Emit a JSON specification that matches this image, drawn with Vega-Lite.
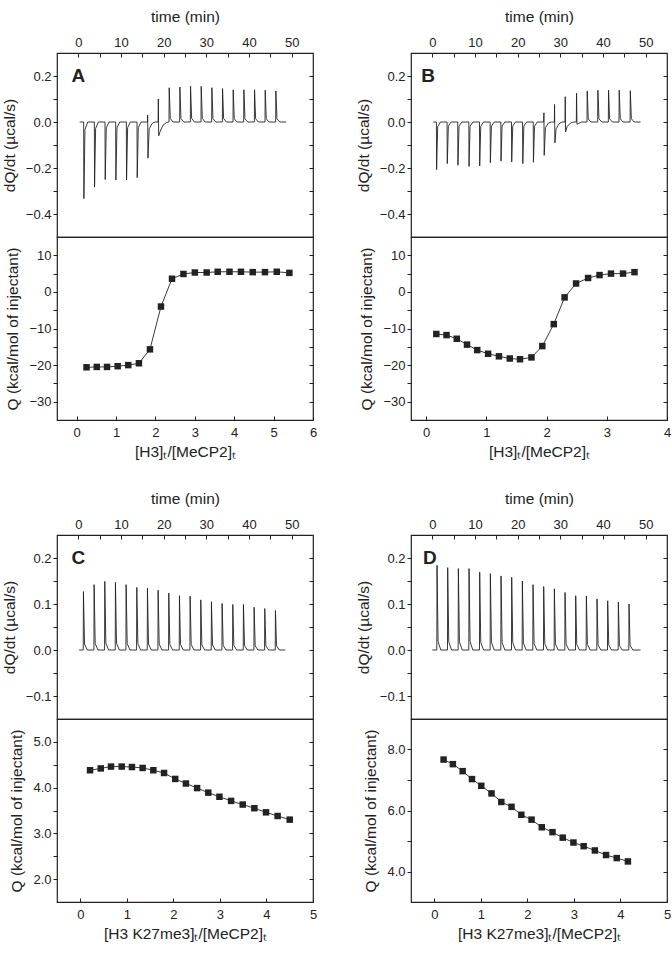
{
  "$schema": "https://vega.github.io/schema/vega-lite/v6.json",
  "padding": {"left": 1, "top": 8, "right": 2, "bottom": 2},
  "background": "white",
  "config": {
    "font": "Liberation Sans",
    "view": {"stroke": "#222", "strokeWidth": 1.2},
    "axis": {
      "domain": false, "grid": false, "ticks": true,
      "tickColor": "#222", "tickWidth": 1, "tickSize": 4,
      "labelColor": "#222", "labelFont": "Liberation Sans", "labelFontSize": 13,
      "labelFlush": false, "labelOverlap": false, "labelPadding": 2,
      "titleFont": "Liberation Sans", "titleFontSize": 15.5, "titleFontWeight": "normal",
      "titleColor": "#222", "titlePadding": 8
    },
    "axisTop": {"offset": -4, "labelPadding": 4, "titlePadding": 11.5},
    "axisBottom": {"offset": -4, "labelPadding": 6, "titlePadding": 5},
    "axisRight": {"offset": -4, "labels": false}
  },
  "datasets": {
    "rawA": [
      {"t":0.3,"v":0},
      {"t":1.25,"v":0},{"t":1.3,"v":-0.333},{"t":1.55,"v":-0.033},{"t":2.2,"v":0},
      {"t":3.75,"v":0},{"t":3.8,"v":-0.283},{"t":4.05,"v":-0.028},{"t":4.7,"v":0},
      {"t":6.25,"v":0},{"t":6.3,"v":-0.25},{"t":6.55,"v":-0.025},{"t":7.2,"v":0},
      {"t":8.75,"v":0},{"t":8.8,"v":-0.252},{"t":9.05,"v":-0.025},{"t":9.7,"v":0},
      {"t":11.25,"v":0},{"t":11.3,"v":-0.252},{"t":11.55,"v":-0.025},{"t":12.2,"v":0},
      {"t":13.75,"v":0},{"t":13.8,"v":-0.242},{"t":14.05,"v":-0.024},{"t":14.7,"v":0},
      {"t":16.2,"v":0},{"t":16.25,"v":0.03},{"t":16.32,"v":-0.157},{"t":16.6,"v":-0.03},{"t":17.3,"v":-0.006},{"t":18.0,"v":0},
      {"t":18.7,"v":0},{"t":18.75,"v":0.1},{"t":18.83,"v":-0.06},{"t":19.2,"v":-0.04},{"t":19.8,"v":-0.015},{"t":20.6,"v":-0.003},{"t":21.2,"v":0},
      {"t":21.25,"v":0},{"t":21.3,"v":0.149},{"t":21.55,"v":0.015},{"t":22.2,"v":0},
      {"t":23.75,"v":0},{"t":23.8,"v":0.152},{"t":24.05,"v":0.015},{"t":24.7,"v":0},
      {"t":26.25,"v":0},{"t":26.3,"v":0.155},{"t":26.55,"v":0.016},{"t":27.2,"v":0},
      {"t":28.75,"v":0},{"t":28.8,"v":0.155},{"t":29.05,"v":0.016},{"t":29.7,"v":0},
      {"t":31.25,"v":0},{"t":31.3,"v":0.149},{"t":31.55,"v":0.015},{"t":32.2,"v":0},
      {"t":33.75,"v":0},{"t":33.8,"v":0.145},{"t":34.05,"v":0.015},{"t":34.7,"v":0},
      {"t":36.25,"v":0},{"t":36.3,"v":0.14},{"t":36.55,"v":0.014},{"t":37.2,"v":0},
      {"t":38.75,"v":0},{"t":38.8,"v":0.14},{"t":39.05,"v":0.014},{"t":39.7,"v":0},
      {"t":41.25,"v":0},{"t":41.3,"v":0.14},{"t":41.55,"v":0.014},{"t":42.2,"v":0},
      {"t":43.75,"v":0},{"t":43.8,"v":0.138},{"t":44.05,"v":0.014},{"t":44.7,"v":0},
      {"t":46.25,"v":0},{"t":46.3,"v":0.135},{"t":46.55,"v":0.014},{"t":47.2,"v":0},
      {"t":48.7,"v":0}
    ],
    "rawB": [
      {"t":0.2,"v":0},
      {"t":0.95,"v":0},{"t":1.0,"v":-0.207},{"t":1.25,"v":-0.021},{"t":1.9,"v":0},
      {"t":3.45,"v":0},{"t":3.5,"v":-0.181},{"t":3.75,"v":-0.018},{"t":4.4,"v":0},
      {"t":5.95,"v":0},{"t":6.0,"v":-0.188},{"t":6.25,"v":-0.019},{"t":6.9,"v":0},
      {"t":8.55,"v":0},{"t":8.6,"v":-0.193},{"t":8.85,"v":-0.019},{"t":9.5,"v":0},
      {"t":11.05,"v":0},{"t":11.1,"v":-0.191},{"t":11.35,"v":-0.019},{"t":12.0,"v":0},
      {"t":13.55,"v":0},{"t":13.6,"v":-0.177},{"t":13.85,"v":-0.018},{"t":14.5,"v":0},
      {"t":16.05,"v":0},{"t":16.1,"v":-0.17},{"t":16.35,"v":-0.017},{"t":17.0,"v":0},
      {"t":18.55,"v":0},{"t":18.6,"v":-0.174},{"t":18.85,"v":-0.017},{"t":19.5,"v":0},
      {"t":21.15,"v":0},{"t":21.2,"v":-0.181},{"t":21.45,"v":-0.018},{"t":22.1,"v":0},
      {"t":23.65,"v":0},{"t":23.7,"v":-0.175},{"t":23.95,"v":-0.018},{"t":24.6,"v":0},
      {"t":26.1,"v":0},{"t":26.15,"v":0.04},{"t":26.22,"v":-0.145},{"t":26.5,"v":-0.025},{"t":27.2,"v":-0.005},{"t":27.9,"v":0},
      {"t":28.6,"v":0},{"t":28.65,"v":0.076},{"t":28.73,"v":-0.091},{"t":29.0,"v":-0.03},{"t":29.7,"v":-0.008},{"t":30.4,"v":0},
      {"t":31.1,"v":0},{"t":31.15,"v":0.11},{"t":31.23,"v":-0.043},{"t":31.6,"v":-0.02},{"t":32.3,"v":-0.006},{"t":33.0,"v":0},
      {"t":33.75,"v":0},{"t":33.8,"v":0.125},{"t":33.9,"v":-0.01},{"t":34.3,"v":-0.006},{"t":35.0,"v":0},
      {"t":36.25,"v":0},{"t":36.3,"v":0.135},{"t":36.55,"v":0.013},{"t":37.2,"v":0},
      {"t":38.75,"v":0},{"t":38.8,"v":0.138},{"t":39.05,"v":0.014},{"t":39.7,"v":0},
      {"t":41.25,"v":0},{"t":41.3,"v":0.138},{"t":41.55,"v":0.014},{"t":42.2,"v":0},
      {"t":43.75,"v":0},{"t":43.8,"v":0.138},{"t":44.05,"v":0.014},{"t":44.7,"v":0},
      {"t":46.35,"v":0},{"t":46.4,"v":0.136},{"t":46.65,"v":0.014},{"t":47.3,"v":0},
      {"t":48.8,"v":0}
    ],
    "rawC": [
      {"t":0.2,"v":0},
      {"t":1.15,"v":0},{"t":1.2,"v":0.127},{"t":1.45,"v":0.013},{"t":2.1,"v":0},
      {"t":3.65,"v":0},{"t":3.7,"v":0.142},{"t":3.95,"v":0.014},{"t":4.6,"v":0},
      {"t":6.15,"v":0},{"t":6.2,"v":0.149},{"t":6.45,"v":0.015},{"t":7.1,"v":0},
      {"t":8.65,"v":0},{"t":8.7,"v":0.147},{"t":8.95,"v":0.015},{"t":9.6,"v":0},
      {"t":11.15,"v":0},{"t":11.2,"v":0.142},{"t":11.45,"v":0.014},{"t":12.1,"v":0},
      {"t":13.65,"v":0},{"t":13.7,"v":0.136},{"t":13.95,"v":0.014},{"t":14.6,"v":0},
      {"t":16.15,"v":0},{"t":16.2,"v":0.134},{"t":16.45,"v":0.013},{"t":17.1,"v":0},
      {"t":18.65,"v":0},{"t":18.7,"v":0.13},{"t":18.95,"v":0.013},{"t":19.6,"v":0},
      {"t":21.15,"v":0},{"t":21.2,"v":0.124},{"t":21.45,"v":0.012},{"t":22.1,"v":0},
      {"t":23.65,"v":0},{"t":23.7,"v":0.118},{"t":23.95,"v":0.012},{"t":24.6,"v":0},
      {"t":26.15,"v":0},{"t":26.2,"v":0.117},{"t":26.45,"v":0.012},{"t":27.1,"v":0},
      {"t":28.65,"v":0},{"t":28.7,"v":0.109},{"t":28.95,"v":0.011},{"t":29.6,"v":0},
      {"t":31.15,"v":0},{"t":31.2,"v":0.105},{"t":31.45,"v":0.011},{"t":32.1,"v":0},
      {"t":33.65,"v":0},{"t":33.7,"v":0.101},{"t":33.95,"v":0.01},{"t":34.6,"v":0},
      {"t":36.15,"v":0},{"t":36.2,"v":0.099},{"t":36.45,"v":0.01},{"t":37.1,"v":0},
      {"t":38.65,"v":0},{"t":38.7,"v":0.099},{"t":38.95,"v":0.01},{"t":39.6,"v":0},
      {"t":41.15,"v":0},{"t":41.2,"v":0.093},{"t":41.45,"v":0.009},{"t":42.1,"v":0},
      {"t":43.65,"v":0},{"t":43.7,"v":0.09},{"t":43.95,"v":0.009},{"t":44.6,"v":0},
      {"t":46.15,"v":0},{"t":46.2,"v":0.086},{"t":46.45,"v":0.009},{"t":47.1,"v":0},
      {"t":48.5,"v":0}
    ],
    "rawD": [
      {"t":0.0,"v":0},
      {"t":1.05,"v":0},{"t":1.1,"v":0.184},{"t":1.35,"v":0.018},{"t":2.0,"v":0},
      {"t":3.55,"v":0},{"t":3.6,"v":0.179},{"t":3.85,"v":0.018},{"t":4.5,"v":0},
      {"t":6.05,"v":0},{"t":6.1,"v":0.177},{"t":6.35,"v":0.018},{"t":7.0,"v":0},
      {"t":8.55,"v":0},{"t":8.6,"v":0.177},{"t":8.85,"v":0.018},{"t":9.5,"v":0},
      {"t":11.05,"v":0},{"t":11.1,"v":0.169},{"t":11.35,"v":0.017},{"t":12.0,"v":0},
      {"t":13.55,"v":0},{"t":13.6,"v":0.166},{"t":13.85,"v":0.017},{"t":14.5,"v":0},
      {"t":16.05,"v":0},{"t":16.1,"v":0.161},{"t":16.35,"v":0.016},{"t":17.0,"v":0},
      {"t":18.55,"v":0},{"t":18.6,"v":0.158},{"t":18.85,"v":0.016},{"t":19.5,"v":0},
      {"t":21.05,"v":0},{"t":21.1,"v":0.15},{"t":21.35,"v":0.015},{"t":22.0,"v":0},
      {"t":23.55,"v":0},{"t":23.6,"v":0.142},{"t":23.85,"v":0.014},{"t":24.5,"v":0},
      {"t":26.05,"v":0},{"t":26.1,"v":0.138},{"t":26.35,"v":0.014},{"t":27.0,"v":0},
      {"t":28.55,"v":0},{"t":28.6,"v":0.133},{"t":28.85,"v":0.013},{"t":29.5,"v":0},
      {"t":31.05,"v":0},{"t":31.1,"v":0.125},{"t":31.35,"v":0.013},{"t":32.0,"v":0},
      {"t":33.55,"v":0},{"t":33.6,"v":0.118},{"t":33.85,"v":0.012},{"t":34.5,"v":0},
      {"t":36.05,"v":0},{"t":36.1,"v":0.117},{"t":36.35,"v":0.012},{"t":37.0,"v":0},
      {"t":38.55,"v":0},{"t":38.6,"v":0.111},{"t":38.85,"v":0.011},{"t":39.5,"v":0},
      {"t":41.05,"v":0},{"t":41.1,"v":0.107},{"t":41.35,"v":0.011},{"t":42.0,"v":0},
      {"t":43.55,"v":0},{"t":43.6,"v":0.104},{"t":43.85,"v":0.01},{"t":44.5,"v":0},
      {"t":46.05,"v":0},{"t":46.1,"v":0.1},{"t":46.35,"v":0.01},{"t":47.0,"v":0},
      {"t":48.8,"v":0}
    ],
    "qA": [
      {"r":0.25,"q":-20.6},{"r":0.51,"q":-20.5},{"r":0.77,"q":-20.5},{"r":1.04,"q":-20.3},{"r":1.31,"q":-20.0},
      {"r":1.58,"q":-19.5},{"r":1.86,"q":-15.7},{"r":2.14,"q":-4.0},{"r":2.42,"q":3.6},{"r":2.71,"q":4.9},
      {"r":3.0,"q":5.3},{"r":3.3,"q":5.3},{"r":3.58,"q":5.5},{"r":3.88,"q":5.5},{"r":4.17,"q":5.5},
      {"r":4.47,"q":5.4},{"r":4.78,"q":5.4},{"r":5.08,"q":5.5},{"r":5.4,"q":5.2}
    ],
    "qB": [
      {"r":0.17,"q":-11.5},{"r":0.34,"q":-11.8},{"r":0.51,"q":-12.8},{"r":0.68,"q":-14.4},{"r":0.85,"q":-15.9},
      {"r":1.03,"q":-16.9},{"r":1.21,"q":-17.6},{"r":1.39,"q":-18.2},{"r":1.56,"q":-18.4},{"r":1.75,"q":-17.9},
      {"r":1.93,"q":-14.8},{"r":2.12,"q":-8.8},{"r":2.3,"q":-1.5},{"r":2.49,"q":2.3},{"r":2.69,"q":3.8},
      {"r":2.88,"q":4.6},{"r":3.07,"q":5.0},{"r":3.27,"q":5.0},{"r":3.46,"q":5.4}
    ],
    "qC": [
      {"r":0.21,"q":4.38},{"r":0.44,"q":4.42},{"r":0.66,"q":4.46},{"r":0.89,"q":4.46},{"r":1.11,"q":4.45},
      {"r":1.34,"q":4.43},{"r":1.57,"q":4.38},{"r":1.8,"q":4.32},{"r":2.04,"q":4.19},{"r":2.27,"q":4.09},
      {"r":2.51,"q":3.99},{"r":2.75,"q":3.89},{"r":2.99,"q":3.8},{"r":3.24,"q":3.71},{"r":3.49,"q":3.63},
      {"r":3.74,"q":3.55},{"r":3.99,"q":3.46},{"r":4.24,"q":3.38},{"r":4.5,"q":3.3}
    ],
    "qD": [
      {"r":0.2,"q":7.67},{"r":0.4,"q":7.52},{"r":0.61,"q":7.29},{"r":0.81,"q":7.03},{"r":1.01,"q":6.81},
      {"r":1.23,"q":6.56},{"r":1.44,"q":6.28},{"r":1.66,"q":6.12},{"r":1.87,"q":5.86},{"r":2.09,"q":5.7},
      {"r":2.31,"q":5.45},{"r":2.54,"q":5.29},{"r":2.76,"q":5.11},{"r":2.99,"q":4.95},{"r":3.21,"q":4.83},
      {"r":3.45,"q":4.69},{"r":3.69,"q":4.54},{"r":3.92,"q":4.44},{"r":4.16,"q":4.33}
    ],
    "letterA": [{"label":"A"}],
    "letterB": [{"label":"B"}],
    "letterC": [{"label":"C"}],
    "letterD": [{"label":"D"}]
  },
  "spacing": 29,
  "vconcat": [
    {
      "spacing": 37,
      "hconcat": [
        {
          "spacing": 0,
          "bounds": "flush",
          "vconcat": [
            {
              "width": 256, "height": 184,
              "layer": [
                {
                  "data": {"name": "rawA"},
                  "mark": {"type": "line", "color": "#222", "strokeWidth": 0.9},
                  "encoding": {
                    "x": {"field": "t", "type": "quantitative", "scale": {"domain": [-5, 55], "nice": false, "zero": false},
                      "axis": {"orient": "top", "title": "time (min)", "values": [0,5,10,15,20,25,30,35,40,45,50], "labelExpr": "datum.value % 10 === 0 ? datum.label : ''"}},
                    "y": {"field": "v", "type": "quantitative", "scale": {"domain": [-0.5, 0.3], "nice": false, "zero": false},
                      "axis": {"orient": "left", "title": "dQ/dt (µcal/s)", "format": ".1f", "values": [-0.4,-0.3,-0.2,-0.1,0,0.1,0.2], "labelExpr": "abs(round(datum.value*10)) % 2 === 0 ? datum.label : ''"}}
                  }
                },
                {
                  "data": {"name": "letterA"},
                  "mark": {"type": "text", "fontSize": 19, "fontWeight": "bold", "align": "center", "baseline": "middle", "color": "#222"},
                  "encoding": {
                    "x": {"datum": 0, "type": "quantitative",
                      "axis": {"orient": "top", "title": "time (min)", "values": [0,5,10,15,20,25,30,35,40,45,50], "labelExpr": "datum.value % 10 === 0 ? datum.label : ''"}},
                    "y": {"datum": 0.2, "type": "quantitative", "axis": {"orient": "right", "title": null, "labels": false, "values": [-0.4,-0.3,-0.2,-0.1,0,0.1,0.2]}},
                    "text": {"field": "label"}
                  }
                }
              ],
              "resolve": {"axis": {"y": "independent"}}
            },
            {
              "width": 256, "height": 183,
              "data": {"name": "qA"},
              "layer": [
                {
                  "mark": {"type": "line", "color": "#222", "strokeWidth": 0.9},
                  "encoding": {
                    "x": {"field": "r", "type": "quantitative", "scale": {"domain": [-0.5, 6], "nice": false, "zero": false},
                      "axis": {"orient": "bottom", "title": "[H3]ₜ/[MeCP2]ₜ", "format": "d", "values": [0,0.5,1,1.5,2,2.5,3,3.5,4,4.5,5,5.5,6], "labelExpr": "datum.value % 1 === 0 ? datum.label : ''"}},
                    "y": {"field": "q", "type": "quantitative", "scale": {"domain": [-35, 15], "nice": false, "zero": false},
                      "axis": {"orient": "left", "title": "Q (kcal/mol of injectant)", "values": [-30,-25,-20,-15,-10,-5,0,5,10], "labelExpr": "datum.value % 10 === 0 ? datum.label : ''"}}
                  }
                },
                {
                  "mark": {"type": "square", "color": "#222", "size": 42, "opacity": 1},
                  "encoding": {
                    "x": {"field": "r", "type": "quantitative",
                      "axis": {"orient": "bottom", "title": "[H3]ₜ/[MeCP2]ₜ", "format": "d", "values": [0,0.5,1,1.5,2,2.5,3,3.5,4,4.5,5,5.5,6], "labelExpr": "datum.value % 1 === 0 ? datum.label : ''"}},
                    "y": {"field": "q", "type": "quantitative", "axis": {"orient": "right", "title": null, "labels": false, "values": [-30,-25,-20,-15,-10,-5,0,5,10]}}
                  }
                }
              ],
              "resolve": {"axis": {"y": "independent"}}
            }
          ]
        },
        {
          "spacing": 0,
          "bounds": "flush",
          "vconcat": [
            {
              "width": 256, "height": 184,
              "layer": [
                {
                  "data": {"name": "rawB"},
                  "mark": {"type": "line", "color": "#222", "strokeWidth": 0.9},
                  "encoding": {
                    "x": {"field": "t", "type": "quantitative", "scale": {"domain": [-5, 55], "nice": false, "zero": false},
                      "axis": {"orient": "top", "title": "time (min)", "values": [0,5,10,15,20,25,30,35,40,45,50], "labelExpr": "datum.value % 10 === 0 ? datum.label : ''"}},
                    "y": {"field": "v", "type": "quantitative", "scale": {"domain": [-0.5, 0.3], "nice": false, "zero": false},
                      "axis": {"orient": "left", "title": "dQ/dt (µcal/s)", "format": ".1f", "values": [-0.4,-0.3,-0.2,-0.1,0,0.1,0.2], "labelExpr": "abs(round(datum.value*10)) % 2 === 0 ? datum.label : ''"}}
                  }
                },
                {
                  "data": {"name": "letterB"},
                  "mark": {"type": "text", "fontSize": 19, "fontWeight": "bold", "align": "center", "baseline": "middle", "color": "#222"},
                  "encoding": {
                    "x": {"datum": -1, "type": "quantitative",
                      "axis": {"orient": "top", "title": "time (min)", "values": [0,5,10,15,20,25,30,35,40,45,50], "labelExpr": "datum.value % 10 === 0 ? datum.label : ''"}},
                    "y": {"datum": 0.2, "type": "quantitative", "axis": {"orient": "right", "title": null, "labels": false, "values": [-0.4,-0.3,-0.2,-0.1,0,0.1,0.2]}},
                    "text": {"field": "label"}
                  }
                }
              ],
              "resolve": {"axis": {"y": "independent"}}
            },
            {
              "width": 256, "height": 183,
              "data": {"name": "qB"},
              "layer": [
                {
                  "mark": {"type": "line", "color": "#222", "strokeWidth": 0.9},
                  "encoding": {
                    "x": {"field": "r", "type": "quantitative", "scale": {"domain": [-0.25, 4], "nice": false, "zero": false},
                      "axis": {"orient": "bottom", "title": "[H3]ₜ/[MeCP2]ₜ", "format": "d", "values": [0,0.5,1,1.5,2,2.5,3,3.5,4], "labelExpr": "datum.value % 1 === 0 ? datum.label : ''"}},
                    "y": {"field": "q", "type": "quantitative", "scale": {"domain": [-35, 15], "nice": false, "zero": false},
                      "axis": {"orient": "left", "title": "Q (kcal/mol of injectant)", "values": [-30,-25,-20,-15,-10,-5,0,5,10], "labelExpr": "datum.value % 10 === 0 ? datum.label : ''"}}
                  }
                },
                {
                  "mark": {"type": "square", "color": "#222", "size": 42, "opacity": 1},
                  "encoding": {
                    "x": {"field": "r", "type": "quantitative",
                      "axis": {"orient": "bottom", "title": "[H3]ₜ/[MeCP2]ₜ", "format": "d", "values": [0,0.5,1,1.5,2,2.5,3,3.5,4], "labelExpr": "datum.value % 1 === 0 ? datum.label : ''"}},
                    "y": {"field": "q", "type": "quantitative", "axis": {"orient": "right", "title": null, "labels": false, "values": [-30,-25,-20,-15,-10,-5,0,5,10]}}
                  }
                }
              ],
              "resolve": {"axis": {"y": "independent"}}
            }
          ]
        }
      ]
    },
    {
      "spacing": 37,
      "hconcat": [
        {
          "spacing": 0,
          "bounds": "flush",
          "vconcat": [
            {
              "width": 256, "height": 184,
              "layer": [
                {
                  "data": {"name": "rawC"},
                  "mark": {"type": "line", "color": "#222", "strokeWidth": 0.9},
                  "encoding": {
                    "x": {"field": "t", "type": "quantitative", "scale": {"domain": [-5, 55], "nice": false, "zero": false},
                      "axis": {"orient": "top", "title": "time (min)", "values": [0,5,10,15,20,25,30,35,40,45,50], "labelExpr": "datum.value % 10 === 0 ? datum.label : ''"}},
                    "y": {"field": "v", "type": "quantitative", "scale": {"domain": [-0.15, 0.25], "nice": false, "zero": false},
                      "axis": {"orient": "left", "title": "dQ/dt (µcal/s)", "format": ".1f", "values": [-0.1,-0.05,0,0.05,0.1,0.15,0.2], "labelExpr": "abs(round(datum.value*20)) % 2 === 0 ? datum.label : ''"}}
                  }
                },
                {
                  "data": {"name": "letterC"},
                  "mark": {"type": "text", "fontSize": 19, "fontWeight": "bold", "align": "center", "baseline": "middle", "color": "#222"},
                  "encoding": {
                    "x": {"datum": 0, "type": "quantitative",
                      "axis": {"orient": "top", "title": "time (min)", "values": [0,5,10,15,20,25,30,35,40,45,50], "labelExpr": "datum.value % 10 === 0 ? datum.label : ''"}},
                    "y": {"datum": 0.2, "type": "quantitative", "axis": {"orient": "right", "title": null, "labels": false, "values": [-0.1,-0.05,0,0.05,0.1,0.15,0.2]}},
                    "text": {"field": "label"}
                  }
                }
              ],
              "resolve": {"axis": {"y": "independent"}}
            },
            {
              "width": 256, "height": 183,
              "data": {"name": "qC"},
              "layer": [
                {
                  "mark": {"type": "line", "color": "#222", "strokeWidth": 0.9},
                  "encoding": {
                    "x": {"field": "r", "type": "quantitative", "scale": {"domain": [-0.5, 5], "nice": false, "zero": false},
                      "axis": {"orient": "bottom", "title": "[H3 K27me3]ₜ/[MeCP2]ₜ", "format": "d", "values": [0,0.5,1,1.5,2,2.5,3,3.5,4,4.5,5], "labelExpr": "datum.value % 1 === 0 ? datum.label : ''"}},
                    "y": {"field": "q", "type": "quantitative", "scale": {"domain": [1.5, 5.5], "nice": false, "zero": false},
                      "axis": {"orient": "left", "title": "Q (kcal/mol of injectant)", "format": ".1f", "values": [2,2.5,3,3.5,4,4.5,5], "labelExpr": "datum.value % 1 === 0 ? datum.label : ''"}}
                  }
                },
                {
                  "mark": {"type": "square", "color": "#222", "size": 42, "opacity": 1},
                  "encoding": {
                    "x": {"field": "r", "type": "quantitative",
                      "axis": {"orient": "bottom", "title": "[H3 K27me3]ₜ/[MeCP2]ₜ", "format": "d", "values": [0,0.5,1,1.5,2,2.5,3,3.5,4,4.5,5], "labelExpr": "datum.value % 1 === 0 ? datum.label : ''"}},
                    "y": {"field": "q", "type": "quantitative", "axis": {"orient": "right", "title": null, "labels": false, "values": [2,2.5,3,3.5,4,4.5,5]}}
                  }
                }
              ],
              "resolve": {"axis": {"y": "independent"}}
            }
          ]
        },
        {
          "spacing": 0,
          "bounds": "flush",
          "vconcat": [
            {
              "width": 256, "height": 184,
              "layer": [
                {
                  "data": {"name": "rawD"},
                  "mark": {"type": "line", "color": "#222", "strokeWidth": 0.9},
                  "encoding": {
                    "x": {"field": "t", "type": "quantitative", "scale": {"domain": [-5, 55], "nice": false, "zero": false},
                      "axis": {"orient": "top", "title": "time (min)", "values": [0,5,10,15,20,25,30,35,40,45,50], "labelExpr": "datum.value % 10 === 0 ? datum.label : ''"}},
                    "y": {"field": "v", "type": "quantitative", "scale": {"domain": [-0.15, 0.25], "nice": false, "zero": false},
                      "axis": {"orient": "left", "title": "dQ/dt (µcal/s)", "format": ".1f", "values": [-0.1,-0.05,0,0.05,0.1,0.15,0.2], "labelExpr": "abs(round(datum.value*20)) % 2 === 0 ? datum.label : ''"}}
                  }
                },
                {
                  "data": {"name": "letterD"},
                  "mark": {"type": "text", "fontSize": 19, "fontWeight": "bold", "align": "center", "baseline": "middle", "color": "#222"},
                  "encoding": {
                    "x": {"datum": -0.6, "type": "quantitative",
                      "axis": {"orient": "top", "title": "time (min)", "values": [0,5,10,15,20,25,30,35,40,45,50], "labelExpr": "datum.value % 10 === 0 ? datum.label : ''"}},
                    "y": {"datum": 0.2, "type": "quantitative", "axis": {"orient": "right", "title": null, "labels": false, "values": [-0.1,-0.05,0,0.05,0.1,0.15,0.2]}},
                    "text": {"field": "label"}
                  }
                }
              ],
              "resolve": {"axis": {"y": "independent"}}
            },
            {
              "width": 256, "height": 183,
              "data": {"name": "qD"},
              "layer": [
                {
                  "mark": {"type": "line", "color": "#222", "strokeWidth": 0.9},
                  "encoding": {
                    "x": {"field": "r", "type": "quantitative", "scale": {"domain": [-0.5, 5], "nice": false, "zero": false},
                      "axis": {"orient": "bottom", "title": "[H3 K27me3]ₜ/[MeCP2]ₜ", "format": "d", "values": [0,0.5,1,1.5,2,2.5,3,3.5,4,4.5,5], "labelExpr": "datum.value % 1 === 0 ? datum.label : ''"}},
                    "y": {"field": "q", "type": "quantitative", "scale": {"domain": [3, 9], "nice": false, "zero": false},
                      "axis": {"orient": "left", "title": "Q (kcal/mol of injectant)", "format": ".1f", "values": [4,5,6,7,8], "labelExpr": "datum.value % 2 === 0 ? datum.label : ''"}}
                  }
                },
                {
                  "mark": {"type": "square", "color": "#222", "size": 42, "opacity": 1},
                  "encoding": {
                    "x": {"field": "r", "type": "quantitative",
                      "axis": {"orient": "bottom", "title": "[H3 K27me3]ₜ/[MeCP2]ₜ", "format": "d", "values": [0,0.5,1,1.5,2,2.5,3,3.5,4,4.5,5], "labelExpr": "datum.value % 1 === 0 ? datum.label : ''"}},
                    "y": {"field": "q", "type": "quantitative", "axis": {"orient": "right", "title": null, "labels": false, "values": [4,5,6,7,8]}}
                  }
                }
              ],
              "resolve": {"axis": {"y": "independent"}}
            }
          ]
        }
      ]
    }
  ]
}
